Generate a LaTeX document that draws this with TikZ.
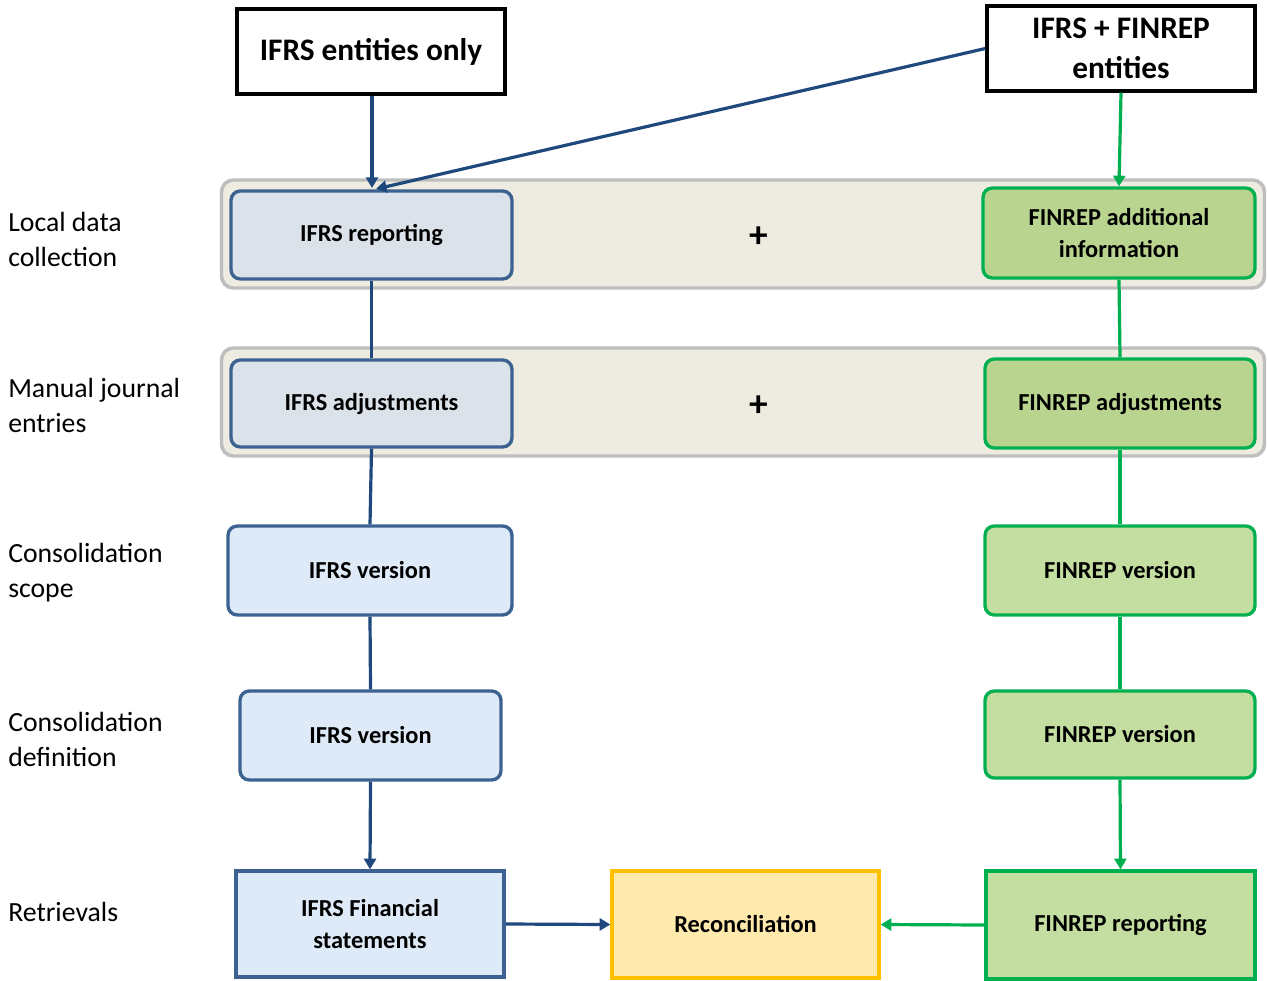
\documentclass[tikz,border=0pt]{standalone}
\usepackage{fontspec}
\setmainfont{Carlito}
\usetikzlibrary{arrows.meta}
\definecolor{ifrsborder}{RGB}{60,98,145}
\definecolor{ifrsline}{RGB}{31,73,125}
\definecolor{ifrsgray}{RGB}{220,226,234}
\definecolor{ifrslight}{RGB}{222,234,247}
\definecolor{fingreen}{RGB}{0,176,80}
\definecolor{finfill}{RGB}{185,212,143}
\definecolor{finlight}{RGB}{195,222,160}
\definecolor{bandfill}{RGB}{238,236,225}
\definecolor{bandborder}{RGB}{190,190,190}
\definecolor{reconfill}{RGB}{255,233,173}
\definecolor{reconborder}{RGB}{255,192,0}
\tikzset{
  px/.style={x=0.75pt,y=-0.75pt},
  sz/.style 2 args={minimum width=#1*0.75pt, minimum height=#2*0.75pt},
  basebox/.style={inner sep=0pt, align=center, font=\fontsize{18.3}{24}\selectfont\bfseries, line width=2.5pt},
  topbox/.style={basebox, draw=black, fill=white, font=\fontsize{23.5}{30}\selectfont\bfseries},
  band/.style={draw=bandborder, fill=bandfill, line width=2.6pt, rounded corners=9pt, inner sep=0pt},
  ifrsA/.style={basebox, draw=ifrsborder, fill=ifrsgray, rounded corners=7pt},
  ifrsB/.style={basebox, draw=ifrsborder, fill=ifrslight, rounded corners=7pt},
  ifrsC/.style={basebox, draw=ifrsborder, fill=ifrslight},
  finA/.style={basebox, draw=fingreen, fill=finfill, rounded corners=7pt},
  finB/.style={basebox, draw=fingreen, fill=finlight, rounded corners=7pt},
  finC/.style={basebox, draw=fingreen, fill=finlight},
  reconbox/.style={basebox, draw=reconborder, fill=reconfill},
  rowlabel/.style={anchor=west, align=left, inner sep=0pt, font=\fontsize{20.8}{26.3}\selectfont},
  plussign/.style={inner sep=0pt, font=\fontsize{28}{28}\selectfont\bfseries},
  bline/.style={draw=ifrsline, line width=2.4pt},
  gline/.style={draw=fingreen, line width=2.4pt},
  tip/.style={-{Triangle[length=8pt,width=9pt]}},
}
\begin{document}
\begin{tikzpicture}[px]
\useasboundingbox (0,0) rectangle (1267,981);
% bands
\node[band, sz={1043}{108}] (band1) at (743,234) {};
\node[band, sz={1043}{108}] (band2) at (743,402) {};
% top boxes
\node[topbox, sz={268}{85}] (ifrsonly) at (371,51.5) {IFRS entities only};
\node[topbox, sz={268}{85}] (both) at (1121,48.5) {IFRS + FINREP\\entities};
% row labels
\node[rowlabel] (l1) at (8,239.5) {Local data\\collection};
\node[rowlabel] (l2) at (8,405.5) {Manual journal\\entries};
\node[rowlabel] (l3) at (8,572.5) {Consolidation\\scope};
\node[rowlabel] (l4) at (8,739.5) {Consolidation\\definition};
\node[rowlabel] (l5) at (8,912) {Retrievals};
% IFRS column
\node[ifrsA, sz={281}{88}] (ifrsrep) at (371.5,235) {IFRS reporting};
\node[ifrsA, sz={281}{87}] (ifrsadj) at (371.5,403.5) {IFRS adjustments};
\node[ifrsB, sz={284}{89}] (ifrsver1) at (370,570.5) {IFRS version};
\node[ifrsB, sz={261}{89}] (ifrsver2) at (370.5,735.5) {IFRS version};
\node[ifrsC, sz={268}{106}] (ifrsfin) at (370,924) {IFRS Financial\\statements};
% FINREP column
\node[finA, sz={272}{90}] (finadd) at (1119,233) {FINREP additional\\information};
\node[finA, sz={270}{89}] (finadj) at (1120,403.5) {FINREP adjustments};
\node[finB, sz={270}{89}] (finver1) at (1120,570.5) {FINREP version};
\node[finB, sz={270}{87}] (finver2) at (1120,734.5) {FINREP version};
\node[finC, sz={269}{108}] (finrep) at (1120.5,925) {FINREP reporting};
% middle
\node[reconbox, sz={267}{107}] (recon) at (745.5,924.5) {Reconciliation};
\node[plussign] (plus1) at (759,237) {+};
\node[plussign] (plus2) at (759,406) {+};
% connectors
\coordinate (ifrsin) at (372,188);
\coordinate (ifrsin2) at (376,189);
\draw[bline, tip] (ifrsonly.south -| ifrsin) -- (ifrsin);
\draw[bline, tip] (both.west) -- (ifrsin2);
\draw[gline, tip] (both.south) -- (finadd.north);
\draw[bline] (ifrsrep.south) -- (ifrsadj.north);
\draw[bline] (ifrsadj.south) -- (ifrsver1.north);
\draw[bline] (ifrsver1.south) -- (ifrsver2.north);
\draw[bline, tip] (ifrsver2.south) -- (ifrsfin.north);
\draw[gline] (finadd.south) -- (finadj.north);
\draw[gline] (finadj.south) -- (finver1.north);
\draw[gline] (finver1.south) -- (finver2.north);
\draw[gline, tip] (finver2.south) -- (finrep.north);
\draw[bline, tip] (ifrsfin.east) -- (recon.west);
\draw[gline, tip] (finrep.west) -- (recon.east);
\end{tikzpicture}
\end{document}
